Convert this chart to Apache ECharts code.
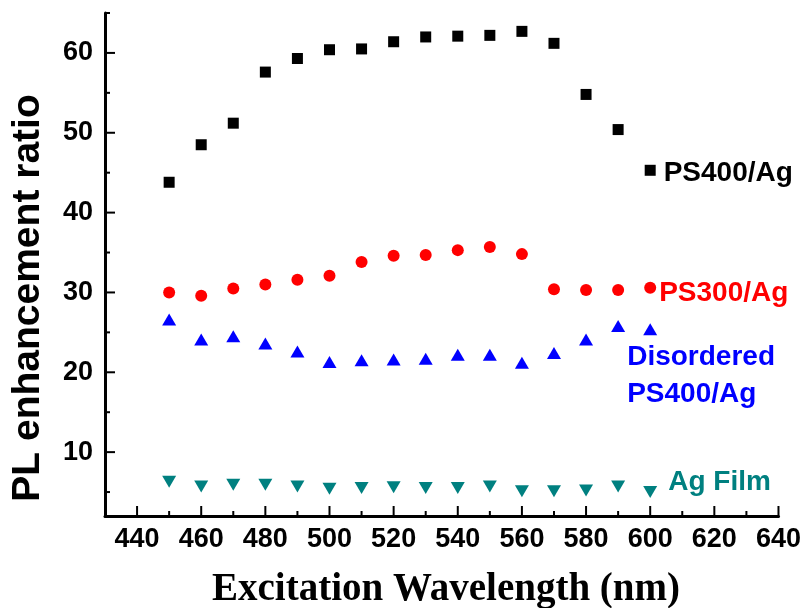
<!DOCTYPE html>
<html>
<head>
<meta charset="utf-8">
<script src="https://cdn.jsdelivr.net/npm/echarts@6/dist/echarts.min.js"></script>
<style>html,body{margin:0;padding:0;background:#fff;}#c{width:804px;height:608px;}</style>
</head>
<body>
<div id="c"></div>
<script>
var wavelengths = [450,460,470,480,490,500,510,520,530,540,550,560,570,580,590,600];
var ps400 = [43.8,48.5,51.2,57.6,59.3,60.4,60.5,61.4,62.0,62.1,62.2,62.7,61.2,54.8,50.4,45.3];
var ps300 = [30.0,29.6,30.5,31.0,31.6,32.1,33.8,34.6,34.7,35.3,35.7,34.8,30.4,30.3,30.3,30.6];
var disordered = [26.6,24.1,24.5,23.6,22.6,21.3,21.5,21.6,21.7,22.2,22.2,21.2,22.4,24.1,25.8,25.4];
var agFilm = [6.3,5.7,5.9,5.9,5.7,5.4,5.5,5.6,5.5,5.5,5.7,5.1,5.1,5.2,5.7,5.0];

var xLabels = [440,460,480,500,520,540,560,580,600,620,640];
var xTicks = [430,440,450,460,470,480,490,500,510,520,530,540,550,560,570,580,590,600,610,620,630,640];
var yLabels = [10,20,30,40,50,60];
var yTicks = [5,10,15,20,25,30,35,40,45,50,55,60,65];

var X_MIN = 430, X_MAX = 640, Y_MIN = 2, Y_MAX = 65;

var seriesNames = ['PS400/Ag','PS300/Ag','Disordered\nPS400/Ag','Ag Film'];

var SANS = 'Liberation Sans';

// data points; only the last point of each series carries the series name as its label
function pairs(ys, labelOpts){
  return wavelengths.map(function(x,i){
    if (i === wavelengths.length - 1) {
      return {value:[x, ys[i]], label:Object.assign({show:true, fontSize:28, fontFamily:SANS, fontWeight:'bold', position:'right', align:'left'}, labelOpts)};
    }
    return [x, ys[i]];
  });
}

var titles = [{
  type:'text', x:28, y:298, rotation:Math.PI/2, z:100,
  style:{text:'PL enhancement ratio', fill:'#000', font:'bold 39px "Liberation Sans", Arial, sans-serif', textAlign:'center', textVerticalAlign:'middle'}
},{
  type:'text', x:446, y:590, z:100,
  style:{text:'Excitation Wavelength (nm)', fill:'#000', font:'bold 39px "Liberation Serif", "Times New Roman", serif', textAlign:'center', textVerticalAlign:'middle'}
}];

var chart = echarts.init(document.getElementById('c'));
chart.setOption({
  animation:false,
  grid:{left:105, right:25, top:13, bottom:92},
  xAxis:{
    type:'value', min:X_MIN, max:X_MAX,
    axisLine:{show:true, lineStyle:{color:'#000', width:3}},
    axisTick:{show:false},
    axisLabel:{customValues:xLabels, margin:10, fontSize:27, color:'#000', fontFamily:SANS, fontWeight:'bold'},
    splitLine:{show:false}
  },
  yAxis:{
    type:'value', min:Y_MIN, max:Y_MAX,
    axisLine:{show:true, lineStyle:{color:'#000', width:3}},
    axisTick:{show:false},
    axisLabel:{customValues:yLabels, margin:12, fontSize:27, color:'#000', fontFamily:SANS, fontWeight:'bold'},
    splitLine:{show:false}
  },
  graphic:titles,
  series:[{
    name:seriesNames[0], type:'scatter', data:pairs(ps400, {color:'#000000', distance:8, offset:[0,3]}),
    symbol:'rect', symbolSize:11, itemStyle:{color:'#000000', opacity:1}
  },{
    name:seriesNames[1], type:'scatter', data:pairs(ps300, {color:'#ff0000', distance:3, offset:[0,6]}),
    symbol:'circle', symbolSize:12, itemStyle:{color:'#ff0000', opacity:1}
  },{
    name:seriesNames[2], type:'scatter', data:pairs(disordered, {color:'#0000ff', distance:0, offset:[-30,47], lineHeight:37, formatter:seriesNames[2]}),
    symbol:'triangle', symbolSize:[14,12], itemStyle:{color:'#0000ff', opacity:1}
  },{
    name:seriesNames[3], type:'scatter', data:pairs(agFilm, {color:'#008080', distance:11, offset:[0,-10]}),
    symbol:'triangle', symbolRotate:180, symbolSize:[14,12], itemStyle:{color:'#008080', opacity:1}
  }]
});
// set label text for each last point to the series name
chart.setOption({series:[
  {label:{formatter:'{a}'}},{label:{formatter:'{a}'}},{label:{formatter:'{a}'}},{label:{formatter:'{a}'}}
]});

// inward axis ticks, positioned through the chart's own scales (major ticks longer)
var tickEls = [];
xTicks.forEach(function(v){
  var p = chart.convertToPixel({gridIndex:0}, [v, Y_MIN]);
  var len = xLabels.indexOf(v) >= 0 ? 10 : 5;
  tickEls.push({type:'line', z:100, silent:true, shape:{x1:p[0], y1:p[1], x2:p[0], y2:p[1]-len}, style:{stroke:'#000', lineWidth:2}});
});
yTicks.forEach(function(v){
  var p = chart.convertToPixel({gridIndex:0}, [X_MIN, v]);
  var len = yLabels.indexOf(v) >= 0 ? 10 : 5;
  tickEls.push({type:'line', z:100, silent:true, shape:{x1:p[0], y1:p[1], x2:p[0]+len, y2:p[1]}, style:{stroke:'#000', lineWidth:2}});
});
chart.setOption({graphic:titles.concat(tickEls)});
</script>
</body>
</html>
